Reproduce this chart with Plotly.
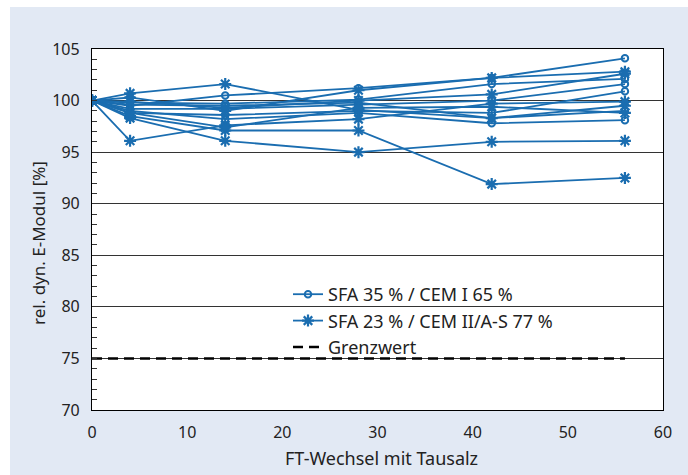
import plotly.graph_objects as go

cycles = [0, 4, 14, 28, 42, 56]

# SFA 35 % / CEM I 65 %  (circle markers)
sfa35 = [
    [100, 99.5, 100.5, 101.2, 102.2, 104.1],
    [100, 99.8, 99.7, 100.1, 101.6, 102.1],
    [100, 99.2, 99.2, 99.6, 100.0, 101.6],
    [100, 98.8, 98.6, 99.0, 98.8, 100.9],
    [100, 99.0, 98.2, 98.8, 97.8, 98.1],
    [100, 99.6, 99.5, 99.8, 98.3, 99.0],
]

# SFA 23 % / CEM II/A-S 77 %  (asterisk markers)
sfa23 = [
    [100, 100.7, 101.6, 99.1, 98.3, 99.5],
    [100, 100.3, 99.0, 101.0, 102.2, 102.8],
    [100, 99.9, 99.3, 100.0, 100.6, 102.6],
    [100, 98.5, 97.1, 97.1, 91.9, 92.5],
    [100, 96.1, 97.6, 98.2, 99.7, 99.9],
    [100, 98.3, 96.1, 95.0, 96.0, 96.1],
    [100, 98.8, 97.4, 99.3, 99.4, 98.8],
]

limit_x = [0, 56]
limit_y = [75, 75]

label35 = "SFA 35 % / CEM I 65 %"
label23 = "SFA 23 % / CEM II/A-S 77 %"
label_lim = "Grenzwert"
x_title = "FT-Wechsel mit Tausalz"
y_title = "rel. dyn. E-Modul [%]"

blue = "#1a6db0"
font_family = "Noto Sans"

fig = go.Figure()

for i, ys in enumerate(sfa35):
    fig.add_trace(go.Scatter(
        x=cycles, y=ys, mode="lines+markers", name=label35,
        legendgroup="a", showlegend=(i == 0),
        line=dict(color=blue, width=1.8),
        marker=dict(symbol="circle-open", size=6.5, color=blue,
                    line=dict(width=2, color=blue)),
    ))

for i, ys in enumerate(sfa23):
    fig.add_trace(go.Scatter(
        x=cycles, y=ys, mode="lines+markers", name=label23,
        legendgroup="b", showlegend=(i == 0),
        line=dict(color=blue, width=1.8),
        marker=dict(symbol="asterisk-open", size=10, color=blue,
                    line=dict(width=2.2, color=blue)),
    ))

fig.add_trace(go.Scatter(
    x=limit_x, y=limit_y, mode="lines", name=label_lim,
    line=dict(color="black", width=2.6, dash="10px,6px"),
))

W, H = 688, 475
L, R, T, B = 92, 663, 49, 410
pw, ph = R - L, B - T

def px_x(p):
    return (p - L) / pw

def px_y(p):
    return (B - p) / ph

fig.add_shape(type="rect", xref="paper", yref="paper",
              x0=px_x(10), x1=px_x(690), y0=px_y(477), y1=px_y(7),
              fillcolor="#e2e9f4", line=dict(width=0), layer="below")
fig.add_shape(type="rect", xref="paper", yref="paper",
              x0=0, x1=1, y0=0, y1=1,
              fillcolor="white", line=dict(width=0), layer="below")

fig.add_annotation(text=x_title, xref="paper", yref="paper",
                   x=px_x(381), y=px_y(458), xanchor="center", yanchor="middle",
                   showarrow=False, font=dict(size=18, color="#222"))
fig.add_annotation(text=y_title, xref="paper", yref="paper",
                   x=px_x(38), y=px_y(243), xanchor="center", yanchor="middle",
                   textangle=-90, showarrow=False, font=dict(size=17, color="#222"))

fig.update_layout(
    width=W, height=H,
    margin=dict(l=L, r=W - R, t=T, b=H - B),
    paper_bgcolor="white", plot_bgcolor="white",
    font=dict(family=font_family, size=16, color="#222"),
    showlegend=True,
    legend=dict(x=px_x(288), y=px_y(276), xanchor="left", yanchor="top",
                bgcolor="rgba(0,0,0,0)", font=dict(size=18, color="#222"),
                tracegroupgap=0),
)

fig.update_xaxes(
    range=[0, 60], dtick=10, tick0=0,
    showgrid=False, zeroline=False,
    showline=True, linecolor="black", linewidth=1.2, mirror=True,
    ticks="", ticklabelstandoff=8,
)

fig.update_yaxes(
    range=[70, 105], dtick=5, tick0=70,
    showgrid=True, gridcolor="#333", gridwidth=1, zeroline=False,
    showline=True, linecolor="black", linewidth=1.2, mirror=True,
    ticks="inside", ticklen=5, tickcolor="#333",
    minor=dict(dtick=1, ticks="inside", ticklen=5, tickcolor="#333", showgrid=False),
    ticklabelstandoff=8,
)

fig.write_html("out.html")
